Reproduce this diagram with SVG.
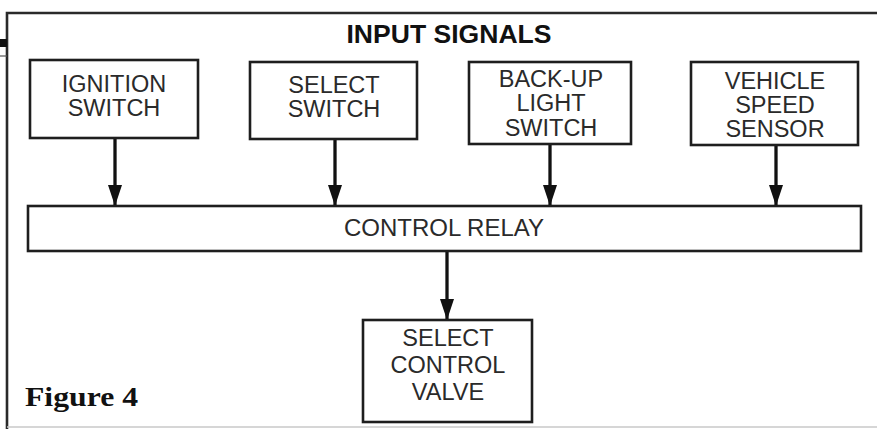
<svg xmlns="http://www.w3.org/2000/svg" width="877" height="429" viewBox="0 0 877 429">
<style>
.box{fill:#fff;stroke:#1e1e1e;stroke-width:2.6}
.lbl{font-family:"Liberation Sans",Arial,sans-serif;font-size:23.5px;fill:#2a2a2a;text-anchor:middle}
.conn{stroke:#111;stroke-width:3.3;fill:none}
.frame{stroke:#2a2a2a;stroke-width:2.6;fill:none}
</style>
<defs>
<marker id="arr" markerUnits="userSpaceOnUse" markerWidth="22" markerHeight="16" refX="21" refY="8" orient="auto" viewBox="0 0 22 16">
<path d="M0,1 L21,8 L0,15 Z" fill="#111"/>
</marker>
</defs>
<rect width="877" height="429" fill="#fff"/>
<g id="frame">
<path class="frame" d="M7,429 V13 H877"/>
<line x1="7" y1="427" x2="877" y2="427" stroke="#c8c8c8" stroke-width="1.5"/>
<rect x="0" y="39" width="7" height="8" fill="#111"/>
<line x1="0" y1="56" x2="7" y2="56" stroke="#555" stroke-width="1.2"/>
</g>
<text x="449" y="43" font-family="'Liberation Sans',Arial,sans-serif" font-weight="bold" font-size="26" fill="#111" text-anchor="middle" textLength="205" lengthAdjust="spacingAndGlyphs">INPUT SIGNALS</text>
<g id="connectors">
<line class="conn" x1="115" y1="138" x2="115" y2="206" marker-end="url(#arr)"/>
<line class="conn" x1="335" y1="139" x2="335" y2="206" marker-end="url(#arr)"/>
<line class="conn" x1="550" y1="144" x2="550" y2="206" marker-end="url(#arr)"/>
<line class="conn" x1="776" y1="145" x2="776" y2="206" marker-end="url(#arr)"/>
<line class="conn" x1="447" y1="251" x2="447" y2="320" marker-end="url(#arr)"/>
</g>
<g id="ignition-switch">
<rect class="box" x="30" y="60" width="168" height="78"/>
<text class="lbl" x="114" y="92">IGNITION</text>
<text class="lbl" x="114" y="116">SWITCH</text>
</g>
<g id="select-switch">
<rect class="box" x="250" y="62" width="167" height="77"/>
<text class="lbl" x="334" y="93">SELECT</text>
<text class="lbl" x="334" y="117">SWITCH</text>
</g>
<g id="backup-light-switch">
<rect class="box" x="469" y="62" width="162" height="82"/>
<text class="lbl" x="551" y="87">BACK-UP</text>
<text class="lbl" x="551" y="111">LIGHT</text>
<text class="lbl" x="551" y="136">SWITCH</text>
</g>
<g id="vehicle-speed-sensor">
<rect class="box" x="691" y="62" width="167" height="83"/>
<text class="lbl" x="775" y="89">VEHICLE</text>
<text class="lbl" x="775" y="113">SPEED</text>
<text class="lbl" x="775" y="137">SENSOR</text>
</g>
<g id="control-relay">
<rect class="box" x="28" y="206" width="833" height="45"/>
<text class="lbl" x="444" y="236" textLength="200" lengthAdjust="spacingAndGlyphs">CONTROL RELAY</text>
</g>
<g id="select-control-valve">
<rect class="box" x="363" y="320" width="169" height="102"/>
<text class="lbl" x="448" y="346">SELECT</text>
<text class="lbl" x="448" y="373">CONTROL</text>
<text class="lbl" x="448" y="400">VALVE</text>
</g>
<text x="25" y="406" font-family="'Liberation Serif','Times New Roman',serif" font-weight="bold" font-size="27" fill="#111" textLength="113" lengthAdjust="spacingAndGlyphs">Figure 4</text>
</svg>
